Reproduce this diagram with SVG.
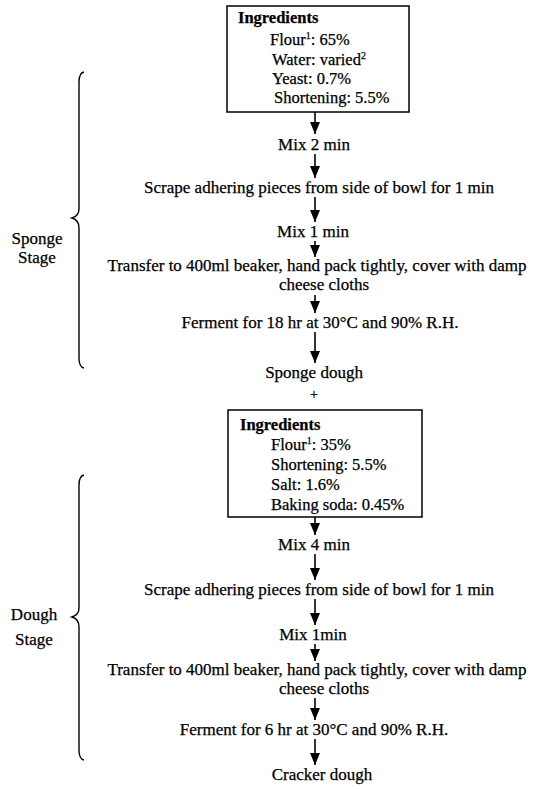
<svg xmlns="http://www.w3.org/2000/svg" width="537" height="789" viewBox="0 0 537 789">
<defs>
<marker id="ah" markerWidth="12" markerHeight="10" refX="12" refY="5" orient="auto" markerUnits="userSpaceOnUse" viewBox="0 0 12 10">
<path d="M0,0 L12,5 L0,10 Z" fill="#000"/>
</marker>
<style>
text{font-family:"Liberation Serif","Times New Roman",serif;font-size:17px;fill:#000;stroke:#000;stroke-width:0.25}
.bx{font-size:16.5px}
.b{font-weight:bold}
.c{text-anchor:middle}
.sup{font-size:10px}
.box{fill:#fff;stroke:#000;stroke-width:1.5}
.arr{stroke:#000;stroke-width:1.6;fill:none}
.brace{stroke:#000;stroke-width:1.4;fill:none}
</style>
</defs>
<rect width="537" height="789" fill="#fff"/>
<g id="connectors">
<path class="arr" d="M315,112 V134" marker-end="url(#ah)"/>
<path class="arr" d="M315,154 V178" marker-end="url(#ah)"/>
<path class="arr" d="M315,197 V222" marker-end="url(#ah)"/>
<path class="arr" d="M315,241 V257" marker-end="url(#ah)"/>
<path class="arr" d="M315,295 V313" marker-end="url(#ah)"/>
<path class="arr" d="M315,332 V363" marker-end="url(#ah)"/>
<path class="arr" d="M315,517 V535" marker-end="url(#ah)"/>
<path class="arr" d="M315,554 V580" marker-end="url(#ah)"/>
<path class="arr" d="M315,599 V625" marker-end="url(#ah)"/>
<path class="arr" d="M315,644 V661" marker-end="url(#ah)"/>
<path class="arr" d="M315,698 V720" marker-end="url(#ah)"/>
<path class="arr" d="M315,739 V765" marker-end="url(#ah)"/>
</g>
<g id="ingredients1">
<rect class="box" x="227" y="6" width="182" height="106"/>
<text class="b bx" x="238" y="23">Ingredients</text>
<text class="bx" x="270" y="45">Flour<tspan class="sup" dy="-6">1</tspan><tspan dy="6">: 65%</tspan></text>
<text class="bx" x="272" y="65">Water: varied<tspan class="sup" dy="-6">2</tspan></text>
<text class="bx" x="272" y="84">Yeast: 0.7%</text>
<text class="bx" x="274" y="103">Shortening: 5.5%</text>
</g>
<g id="mix2"><text class="c" x="314" y="150">Mix 2 min</text></g>
<g id="scrape1"><text class="c" x="319" y="193">Scrape adhering pieces from side of bowl for 1 min</text></g>
<g id="mix1a"><text class="c" x="313" y="237">Mix 1 min</text></g>
<g id="transfer1"><text class="c" x="317" y="271">Transfer to 400ml beaker, hand pack tightly, cover with damp</text><text class="c" x="324" y="290">cheese cloths</text></g>
<g id="ferment1"><text class="c" x="320" y="328">Ferment for 18 hr at 30°C and 90% R.H.</text></g>
<g id="sponge"><text class="c" x="314" y="378">Sponge dough</text><text class="c" x="314" y="399" style="font-size:14px">+</text></g>
<g id="ingredients2">
<rect class="box" x="228" y="410" width="194" height="107"/>
<text class="b bx" x="240" y="430">Ingredients</text>
<text class="bx" x="271" y="450">Flour<tspan class="sup" dy="-6">1</tspan><tspan dy="6">: 35%</tspan></text>
<text class="bx" x="271" y="470">Shortening: 5.5%</text>
<text class="bx" x="271" y="490">Salt: 1.6%</text>
<text class="bx" x="271" y="510">Baking soda: 0.45%</text>
</g>
<g id="mix4"><text class="c" x="314" y="550">Mix 4 min</text></g>
<g id="scrape2"><text class="c" x="319" y="595">Scrape adhering pieces from side of bowl for 1 min</text></g>
<g id="mix1b"><text class="c" x="313" y="640">Mix 1min</text></g>
<g id="transfer2"><text class="c" x="317" y="675">Transfer to 400ml beaker, hand pack tightly, cover with damp</text><text class="c" x="324" y="694">cheese cloths</text></g>
<g id="ferment2"><text class="c" x="314" y="735">Ferment for 6 hr at 30°C and 90% R.H.</text></g>
<g id="cracker"><text class="c" x="322" y="780">Cracker dough</text></g>
<g id="spongeStage">
<path class="brace" d="M84,72 Q79,73 79,82 L79,209 Q79,216 72,218 Q79,220 79,228 L79,358 Q79,367 84,368"/>
<text class="c" x="37" y="244">Sponge</text>
<text class="c" x="37" y="263">Stage</text>
</g>
<g id="doughStage">
<path class="brace" d="M84,475 Q79,476 79,485 L79,608 Q79,615 72,617 Q79,619 79,627 L79,750 Q79,759 84,760"/>
<text class="c" x="34" y="620">Dough</text>
<text class="c" x="34" y="645">Stage</text>
</g>
</svg>
